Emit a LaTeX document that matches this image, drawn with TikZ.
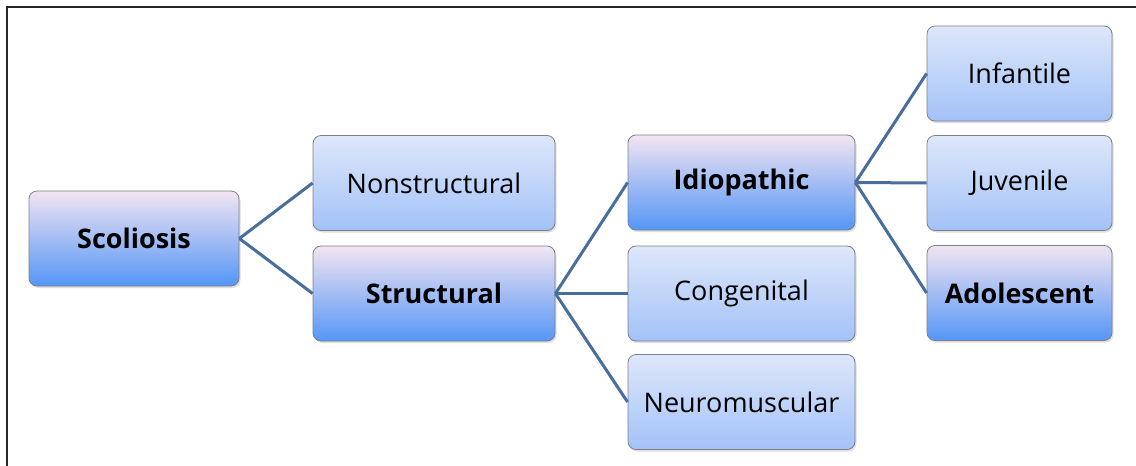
\documentclass[tikz,border=0pt]{standalone}
\usepackage{fontspec}
\setmainfont{Open Sans}
\usetikzlibrary{shadows}

\definecolor{linkblue}{RGB}{72,110,158}
\definecolor{boxedge}{RGB}{125,128,140}
\definecolor{paletop}{RGB}{222,231,250}
\definecolor{palebottom}{RGB}{162,194,248}
\definecolor{pinktop}{RGB}{242,228,242}
\definecolor{bluebottom}{RGB}{84,150,246}

\begin{document}
\begin{tikzpicture}[x=1pt, y=-1pt,
            box/.style={draw=boxedge, line width=0.8pt, rounded corners=8pt,
                top color=paletop, bottom color=palebottom,
                minimum height=95pt, inner sep=0pt,
                font=\fontsize{27}{31}\selectfont,
                drop shadow={shadow xshift=1.5pt, shadow yshift=-2pt, opacity=0.25}},
            keybox/.style={box, top color=pinktop, bottom color=bluebottom,
                font=\fontsize{27}{31}\selectfont\bfseries},
            link/.style={draw=linkblue, line width=3pt}
        ]
            \useasboundingbox (0,0) rectangle (1136,466);
            \draw[line width=1.3pt, black!85] (7,470) -- (7,7) -- (1140,7);

            \node[keybox, minimum width=210pt] (scol) at (134, 238.5) {Scoliosis};
            \node[box, minimum width=242pt] (nonst) at (434, 183) {Nonstructural};
            \node[keybox, minimum width=242pt] (struct) at (434, 293.5) {Structural};
            \node[keybox, minimum width=227pt] (idio) at (741.5, 182.5) {Idiopathic};
            \node[box, minimum width=227pt] (cong) at (741.5, 293.5) {Congenital};
            \node[box, minimum width=227pt] (neuro) at (741.5, 402) {Neuromuscular};
            \node[box, minimum width=185pt] (infant) at (1019.5, 73.5) {Infantile};
            \node[box, minimum width=185pt] (juv) at (1019.5, 183) {Juvenile};
            \node[keybox, minimum width=185pt] (adol) at (1019.5, 293) {Adolescent};

            \foreach \child in {nonst, struct}
                \draw[link] (scol.east) -- (\child.west);
            \foreach \child in {idio, cong, neuro}
                \draw[link] (struct.east) -- (\child.west);
            \foreach \child in {infant, juv, adol}
                \draw[link] (idio.east) -- (\child.west);

        \end{tikzpicture}
\end{document}
